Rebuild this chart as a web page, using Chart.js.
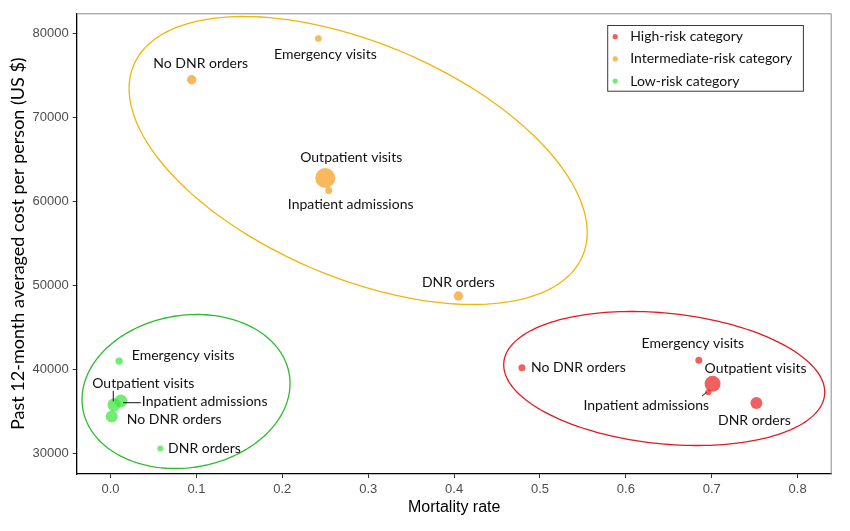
<!DOCTYPE html>
<html>
<head>
<meta charset="utf-8">
<script src="https://cdn.jsdelivr.net/npm/chart.js@4.4.1/dist/chart.umd.min.js"></script>
<style>
  html, body { margin: 0; background: #fff; }
</style>
</head>
<body>
<canvas id="riskChart" width="850" height="531"></canvas>
<script>
// point names, same order in every group
var pointNames = ['Emergency visits', 'Outpatient visits', 'Inpatient admissions', 'DNR orders', 'No DNR orders'];
var groupNames = ['High-risk category', 'Intermediate-risk category', 'Low-risk category'];

// axis ticks
var xTickValues = [0, 0.1, 0.2, 0.3, 0.4, 0.5, 0.6, 0.7, 0.8];
var yTickValues = [30000, 40000, 50000, 60000, 70000, 80000];

// mortality rate (x), cost in US $ (y), bubble size
var highMortality = [0.685, 0.701, 0.696, 0.752, 0.479];
var highCost      = [41100, 38300, 37300, 36000, 40200];
var highSize      = [3.5, 8, 3, 6, 3.5];

var midMortality  = [0.242, 0.250, 0.254, 0.405, 0.0945];
var midCost       = [79400, 62800, 61300, 48750, 74500];
var midSize       = [3.3, 10, 3.5, 4.7, 4.7];

var lowMortality  = [0.010, 0.004, 0.012, 0.058, 0.0014];
var lowCost       = [41000, 35800, 36250, 30600, 34400];
var lowSize       = [3.7, 6.5, 6.5, 3, 6];

// group ellipses: centre, x semi-axis, y components (cos / sin part)
var ellipseCx  = [0.6447, 0.2883, 0.0879];
var ellipseCy  = [38929, 64881, 37381];
var ellipseAx  = [0.1869, 0.2667, 0.1211];
var ellipseByC = [-1631, -8571, 952];
var ellipseByS = [7810, 14845, 9119];

var fillColors   = ['rgba(236,34,34,0.72)', 'rgba(245,160,40,0.75)', 'rgba(60,228,60,0.72)'];
var ellipseColors = ['#e01b22', '#f2b50c', '#2bbb2b'];

var labelFont = "14px Lato, 'Open Sans', sans-serif";
var axisFont = "'Liberation Sans', Arial, sans-serif";

// label placement (pixels from the point), per group, per point
var labelPlace = [
  [ {dx: -6, dy: -17, align: 'center'},
    {dx: 43, dy: -15, align: 'center'},
    {dx: -62, dy: 13, align: 'center', lead: [-6.3, 4, -1.6, 0]},
    {dx: -2, dy: 17, align: 'center'},
    {dx: 9, dy: 0, align: 'left'} ],
  [ {dx: 7, dy: 16, align: 'center'},
    {dx: 26, dy: -20, align: 'center'},
    {dx: 22, dy: 14, align: 'center'},
    {dx: 0, dy: -14, align: 'center'},
    {dx: 9, dy: -16, align: 'center'} ],
  [ {dx: 12.7, dy: -5.7, align: 'left'},
    {dx: 29.3, dy: -21.7, align: 'center', lead: [-0.7, -14, -0.7, -3.3]},
    {dx: 21, dy: 0.7, align: 'left', lead: [2.3, 1.7, 20, 1.7]},
    {dx: 7.7, dy: 0, align: 'left'},
    {dx: 15, dy: 3.3, align: 'left'} ]
];

function makePoints(xs, ys, rs) {
  return xs.map(function (x, i) { return {x: x, y: ys[i], r: rs[i]}; });
}

var ellipsePlugin = {
  id: 'ellipses',
  beforeDatasetsDraw: function (chart) {
    var ctx = chart.ctx, xs = chart.scales.x, ys = chart.scales.y;
    ctx.save();
    ctx.lineWidth = 1.3;
    for (var g = 0; g < ellipseCx.length; g++) {
      ctx.strokeStyle = ellipseColors[g];
      ctx.beginPath();
      for (var k = 0; k <= 200; k++) {
        var t = k / 200 * Math.PI * 2;
        var vx = ellipseCx[g] + ellipseAx[g] * Math.cos(t);
        var vy = ellipseCy[g] + ellipseByC[g] * Math.cos(t) + ellipseByS[g] * Math.sin(t);
        var px = xs.getPixelForValue(vx), py = ys.getPixelForValue(vy);
        if (k === 0) ctx.moveTo(px, py); else ctx.lineTo(px, py);
      }
      ctx.closePath();
      ctx.stroke();
    }
    ctx.restore();
  }
};

var labelPlugin = {
  id: 'pointLabels',
  afterDatasetsDraw: function (chart) {
    var ctx = chart.ctx;
    ctx.save();
    ctx.font = labelFont;
    ctx.fillStyle = '#111';
    ctx.strokeStyle = '#111';
    ctx.lineWidth = 1;
    ctx.textBaseline = 'middle';
    chart.data.datasets.forEach(function (ds, g) {
      var meta = chart.getDatasetMeta(g);
      meta.data.forEach(function (el, i) {
        var p = labelPlace[g][i];
        ctx.textAlign = p.align;
        ctx.fillText(pointNames[i], el.x + p.dx, el.y + p.dy);
        if (p.lead) {
          ctx.beginPath();
          ctx.moveTo(el.x + p.lead[0], el.y + p.lead[1]);
          ctx.lineTo(el.x + p.lead[2], el.y + p.lead[3]);
          ctx.stroke();
        }
      });
    });
    ctx.restore();
  }
};

var framePlugin = {
  id: 'frameAndLegend',
  afterDraw: function (chart) {
    var ctx = chart.ctx, a = chart.chartArea;
    ctx.save();
    // top and right panel edges
    ctx.strokeStyle = '#8a8a8a';
    ctx.lineWidth = 1;
    ctx.beginPath();
    ctx.moveTo(a.left, a.top + 0.5);
    ctx.lineTo(a.right - 0.5, a.top + 0.5);
    ctx.lineTo(a.right - 0.5, a.bottom);
    ctx.stroke();

    // legend box
    var bx = a.right - 224.5, by = a.top + 11.7, bw = 195.7, bh = 65.7;
    ctx.fillStyle = '#fff';
    ctx.fillRect(bx, by, bw, bh);
    ctx.strokeStyle = '#3a3a3a';
    ctx.strokeRect(bx + 0.5, by + 0.5, bw, bh);
    ctx.font = labelFont;
    ctx.textBaseline = 'middle';
    ctx.textAlign = 'left';
    chart.data.datasets.forEach(function (ds, g) {
      var cy = by + 11.7 + g * 22.2;
      ctx.fillStyle = ds.backgroundColor;
      ctx.beginPath();
      ctx.arc(bx + 8, cy, 2.6, 0, Math.PI * 2);
      ctx.fill();
      ctx.fillStyle = '#111';
      ctx.fillText(ds.label, bx + 23, cy);
    });
    ctx.restore();
  }
};

var ctx = document.getElementById('riskChart').getContext('2d');
var riskChart = new Chart(ctx, {
  type: 'bubble',
  data: {
    datasets: [
      {label: groupNames[0], data: makePoints(highMortality, highCost, highSize), backgroundColor: fillColors[0], borderWidth: 0},
      {label: groupNames[1], data: makePoints(midMortality, midCost, midSize), backgroundColor: fillColors[1], borderWidth: 0},
      {label: groupNames[2], data: makePoints(lowMortality, lowCost, lowSize), backgroundColor: fillColors[2], borderWidth: 0}
    ]
  },
  options: {
    responsive: false,
    animation: false,
    layout: {
      autoPadding: false,
      padding: {left: 0, right: 18.3, top: 13.3, bottom: 0}
    },
    plugins: {
      legend: {display: false},
      tooltip: {enabled: false}
    },
    scales: {
      x: {
        type: 'linear',
        min: -0.0394,
        max: 0.8397,
        afterFit: function (s) { s.height = 57; },
        afterBuildTicks: function (s) {
          s.ticks = xTickValues.map(function (v) { return {value: v}; });
        },
        border: {color: '#000', width: 1.3},
        grid: {drawOnChartArea: false, color: '#333', tickLength: 4},
        ticks: {
          padding: 4,
          color: '#4d4d4d',
          font: {family: axisFont, size: 13},
          callback: function (v) { return v.toFixed(1); }
        },
        title: {
          display: true,
          text: 'Mortality rate',
          color: '#000',
          font: {family: axisFont, size: 16},
          padding: {top: 0, bottom: 14}
        }
      },
      y: {
        type: 'linear',
        min: 27560,
        max: 82405,
        afterFit: function (s) { s.width = 76.7; },
        afterBuildTicks: function (s) {
          s.ticks = yTickValues.map(function (v) { return {value: v}; });
        },
        border: {color: '#000', width: 1.3},
        grid: {drawOnChartArea: false, color: '#333', tickLength: 4},
        ticks: {
          padding: 4,
          color: '#4d4d4d',
          font: {family: axisFont, size: 13},
          callback: function (v) { return String(v); }
        },
        title: {
          display: true,
          text: 'Past 12-month averaged cost per person (US $)',
          color: '#000',
          font: {family: "Lato, 'Open Sans', sans-serif", size: 18},
          padding: {top: 7, bottom: 0}
        }
      }
    }
  },
  plugins: [ellipsePlugin, labelPlugin, framePlugin]
});
</script>
</body>
</html>
